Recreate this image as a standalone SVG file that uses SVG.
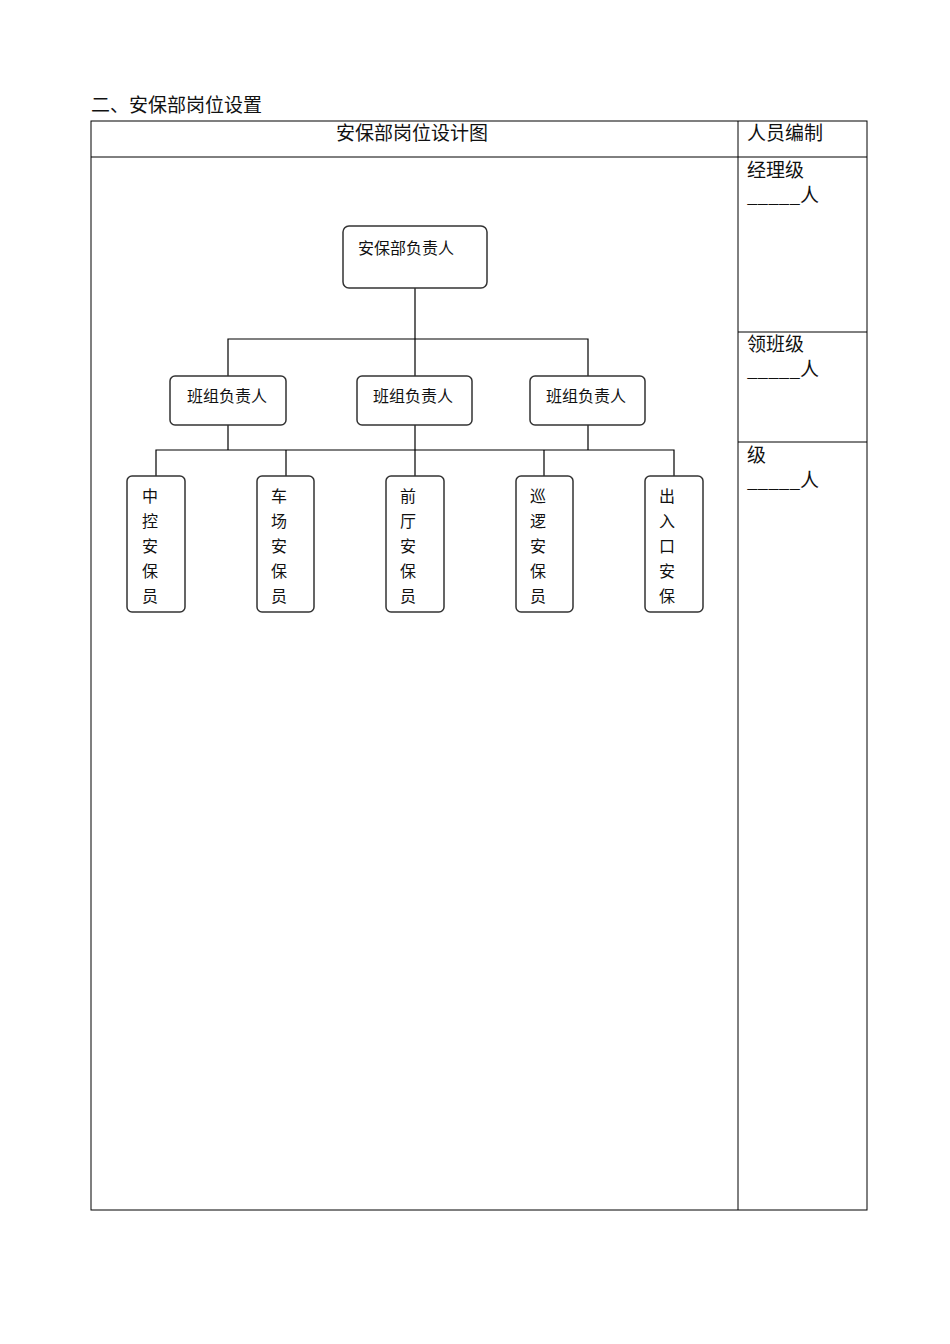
<svg xmlns="http://www.w3.org/2000/svg" width="950" height="1344" viewBox="0 0 950 1344">
<style>
text{font-family:"Noto Sans CJK SC","Liberation Serif",serif;fill:#111}
.h{font-size:19px}
.n{font-size:16px}
.box{fill:#fff;stroke:#333;stroke-width:1.5}
.ln{stroke:#000;stroke-width:1.2;fill:none}
.t{stroke:#000;stroke-width:1;fill:none}
</style>
<rect width="950" height="1344" fill="#fff"/>
<text class="h" x="91" y="112">二、安保部岗位设置</text>
<g id="table">
<rect class="t" x="91" y="121" width="776" height="1089"/>
<line class="t" x1="738" y1="121" x2="738" y2="1210"/>
<line class="t" x1="91" y1="157" x2="867" y2="157"/>
<line class="t" x1="738" y1="332" x2="867" y2="332"/>
<line class="t" x1="738" y1="442" x2="867" y2="442"/>
<text class="h" x="412" y="140" text-anchor="middle">安保部岗位设计图</text>
<text class="h" x="747" y="140">人员编制</text>
<text class="h" x="747" y="177">经理级</text>
<text class="h" x="747" y="202">_____人</text>
<text class="h" x="747" y="351">领班级</text>
<text class="h" x="747" y="376">_____人</text>
<text class="h" x="747" y="462">级</text>
<text class="h" x="747" y="487">_____人</text>
</g>
<g id="connectors">
<path class="ln" d="M415 288V376M228 376V339H588V376"/>
<path class="ln" d="M228 425V450M415 425V450M588 425V450M156 476V450H674V476M286 450V476M415 450V476M544 450V476"/>
</g>
<g id="n0"><rect class="box" x="343" y="226" width="144" height="62" rx="6"/><text class="n" x="358" y="254">安保部负责人</text></g>
<g id="n1"><rect class="box" x="170" y="376" width="116" height="49" rx="5"/><text class="n" x="227" y="402" text-anchor="middle">班组负责人</text></g>
<g id="n2"><rect class="box" x="357" y="376" width="115" height="49" rx="5"/><text class="n" x="413" y="402" text-anchor="middle">班组负责人</text></g>
<g id="n3"><rect class="box" x="530" y="376" width="115" height="49" rx="5"/><text class="n" x="586" y="402" text-anchor="middle">班组负责人</text></g>
<g id="b1"><rect class="box" x="127" y="476" width="58" height="136" rx="5"/><text class="n" text-anchor="middle"><tspan x="150" y="502">中</tspan><tspan x="150" y="527">控</tspan><tspan x="150" y="552">安</tspan><tspan x="150" y="577">保</tspan><tspan x="150" y="602">员</tspan></text></g>
<g id="b2"><rect class="box" x="257" y="476" width="57" height="136" rx="5"/><text class="n" text-anchor="middle"><tspan x="279" y="502">车</tspan><tspan x="279" y="527">场</tspan><tspan x="279" y="552">安</tspan><tspan x="279" y="577">保</tspan><tspan x="279" y="602">员</tspan></text></g>
<g id="b3"><rect class="box" x="386" y="476" width="58" height="136" rx="5"/><text class="n" text-anchor="middle"><tspan x="408" y="502">前</tspan><tspan x="408" y="527">厅</tspan><tspan x="408" y="552">安</tspan><tspan x="408" y="577">保</tspan><tspan x="408" y="602">员</tspan></text></g>
<g id="b4"><rect class="box" x="516" y="476" width="57" height="136" rx="5"/><text class="n" text-anchor="middle"><tspan x="538" y="502">巡</tspan><tspan x="538" y="527">逻</tspan><tspan x="538" y="552">安</tspan><tspan x="538" y="577">保</tspan><tspan x="538" y="602">员</tspan></text></g>
<g id="b5"><rect class="box" x="645" y="476" width="58" height="136" rx="5"/><text class="n" text-anchor="middle"><tspan x="667" y="502">出</tspan><tspan x="667" y="527">入</tspan><tspan x="667" y="552">口</tspan><tspan x="667" y="577">安</tspan><tspan x="667" y="602">保</tspan></text></g>
</svg>
